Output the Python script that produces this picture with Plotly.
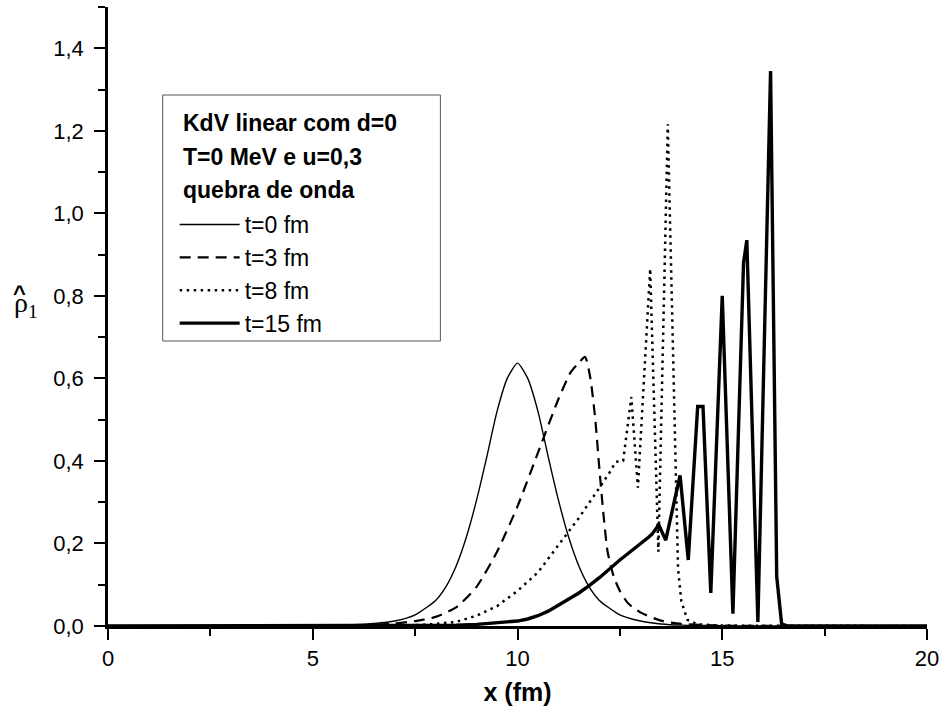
import plotly.graph_objects as go

# ---- data ----
x_t0 = [0, 4, 5, 5.5, 6, 6.5, 7, 7.5, 8, 8.25, 8.5, 8.75, 9, 9.25, 9.5, 9.75, 10,
        10.25, 10.5, 10.75, 11, 11.25, 11.5, 11.75, 12, 12.5, 13, 13.5, 14, 15, 16, 20]
y_t0 = [0, 0.001, 0.001, 0.002, 0.003, 0.006, 0.012, 0.027, 0.062, 0.095, 0.145, 0.215,
        0.305, 0.41, 0.52, 0.60, 0.637, 0.60, 0.52, 0.41, 0.305, 0.215, 0.145, 0.095,
        0.062, 0.027, 0.012, 0.005, 0.002, 0.001, 0, 0]

x_t3 = [0, 5, 6, 6.5, 7, 7.5, 8, 8.5, 9, 9.5, 10, 10.5, 11, 11.3, 11.5, 11.65, 11.78,
        11.9, 12.0, 12.1, 12.2, 12.35, 12.5, 12.7, 13.0, 13.5, 14, 15, 20]
y_t3 = [0, 0, 0.001, 0.003, 0.006, 0.012, 0.022, 0.045, 0.095, 0.18, 0.29, 0.42, 0.55,
        0.615, 0.638, 0.652, 0.60, 0.50, 0.38, 0.27, 0.18, 0.12, 0.085, 0.055, 0.033,
        0.013, 0.005, 0.001, 0]

x_t8 = [0, 6, 7, 7.5, 8, 8.5, 9, 9.5, 10, 10.5, 11, 11.5, 12, 12.25, 12.4, 12.58,
        12.78, 12.94, 13.24, 13.44, 13.67, 13.92, 14.0, 14.15, 14.4, 15, 20]
y_t8 = [0, 0, 0.001, 0.002, 0.005, 0.01, 0.025, 0.048, 0.085, 0.13, 0.195, 0.262, 0.335,
        0.372, 0.398, 0.40, 0.555, 0.335, 0.866, 0.18, 1.216, 0.14, 0.06, 0.015, 0.004,
        0.001, 0]

x_t15 = [0, 7, 8, 8.5, 9, 9.5, 9.75, 10, 10.25, 10.5, 10.75, 11, 11.25, 11.5, 11.75, 12,
         12.5, 13, 13.2, 13.28, 13.45, 13.62, 13.97, 14.17, 14.4, 14.53, 14.72, 14.93,
         15.0, 15.26, 15.52, 15.6, 15.87, 16.18, 16.33, 16.45, 16.6, 20]
y_t15 = [0, 0, 0.001, 0.002, 0.004, 0.007, 0.009, 0.012, 0.017, 0.025, 0.036, 0.05,
         0.064, 0.08, 0.098, 0.117, 0.16, 0.198, 0.215, 0.222, 0.245, 0.208, 0.365, 0.16,
         0.532, 0.532, 0.08, 0.62, 0.80, 0.03, 0.88, 0.935, 0.01, 1.345, 0.12, 0.005, 0, 0]

series = [
    ("t=0 fm", x_t0, y_t0, 1.4, "solid", "spline"),
    ("t=3 fm", x_t3, y_t3, 2.2, "11px,7px", "spline"),
    ("t=8 fm", x_t8, y_t8, 2.5, "2.5px,4.5px", "linear"),
    ("t=15 fm", x_t15, y_t15, 3.4, "solid", "linear"),
]

header_lines = ["KdV linear com d=0", "T=0 MeV e u=0,3", "quebra de onda"]

FONT = "Liberation Sans, Arial, sans-serif"

# geometry in page pixels (body margin removed by post_script)
PL, PR, PT, PB = 108, 931, 7, 626
W_PLOT, H_PLOT = PR - PL, PB - PT


def px(xp):
    return (xp - PL) / W_PLOT


def py(yp):
    return (PB - yp) / H_PLOT


fig = go.Figure()
for name, xs, ys, w, dash, shape in series:
    line = dict(color="black", width=w, dash=dash, shape=shape)
    if shape == "spline":
        line["smoothing"] = 0.6
    fig.add_trace(go.Scatter(x=xs, y=ys, mode="lines", name=name, line=line))

axis_common = dict(
    showline=True, linecolor="black", linewidth=2.5, mirror=False,
    ticks="outside", ticklen=11, tickwidth=2, tickcolor="black",
    showgrid=False, zeroline=False,
    tickfont=dict(family=FONT, size=22, color="black"),
)

fig.update_layout(
    width=946, height=713,
    margin=dict(l=PL, r=946 - PR, t=PT, b=713 - PB, pad=0),
    paper_bgcolor="white", plot_bgcolor="white",
    separators=",.",
    font=dict(family=FONT, color="black"),
    showlegend=True,
    legend=dict(
        x=px(175), y=py(203), xanchor="left", yanchor="top",
        bgcolor="rgba(0,0,0,0)", borderwidth=0,
        font=dict(family=FONT, size=23, color="black"),
        itemwidth=60, tracegroupgap=0,
    ),
    xaxis=dict(
        range=[0, 20], tick0=0, dtick=5,
        minor=dict(dtick=2.5, ticklen=7, tickwidth=2, tickcolor="black", ticks="outside"),
        title=dict(text="<b>x (fm)</b>", font=dict(family=FONT, size=25, color="black"),
                   standoff=14),
        **axis_common,
    ),
    yaxis=dict(
        range=[0, 1.5], tick0=0, dtick=0.2, tickformat=".1f",
        minor=dict(dtick=0.1, ticklen=7, tickwidth=2, tickcolor="black", ticks="outside"),
        ticklabelstandoff=6,
        **axis_common,
    ),
)

# legend frame
fig.add_shape(type="rect", xref="paper", yref="paper",
              x0=px(163), x1=px(442), y0=py(341), y1=py(95),
              line=dict(color="#555555", width=1), fillcolor="rgba(0,0,0,0)", layer="above")

# legend header (bold lines)
for i, txt in enumerate(header_lines):
    fig.add_annotation(xref="paper", yref="paper", x=px(181), y=py(123 + 33.7 * i),
                       xanchor="left", yanchor="middle", showarrow=False,
                       text="<b>%s</b>" % txt,
                       font=dict(family=FONT, size=23, color="black"))

# y-axis label: rho-hat with subscript 1
fig.add_annotation(
    xref="paper", yref="paper", x=px(12), y=py(304), xanchor="left", yanchor="middle",
    text="ρ<sub>1</sub>", showarrow=False,
    font=dict(family="Liberation Serif, Times New Roman, serif", size=28, color="black"),
)
fig.add_annotation(
    xref="paper", yref="paper", x=px(19.5), y=py(293), xanchor="center", yanchor="middle",
    text="<b>^</b>", showarrow=False,
    font=dict(family=FONT, size=22, color="black"),
)

fig.write_html("out.html",
               config={"displayModeBar": False},
               post_script="document.body.style.margin='0';"
                           "document.body.style.overflow='hidden';")
